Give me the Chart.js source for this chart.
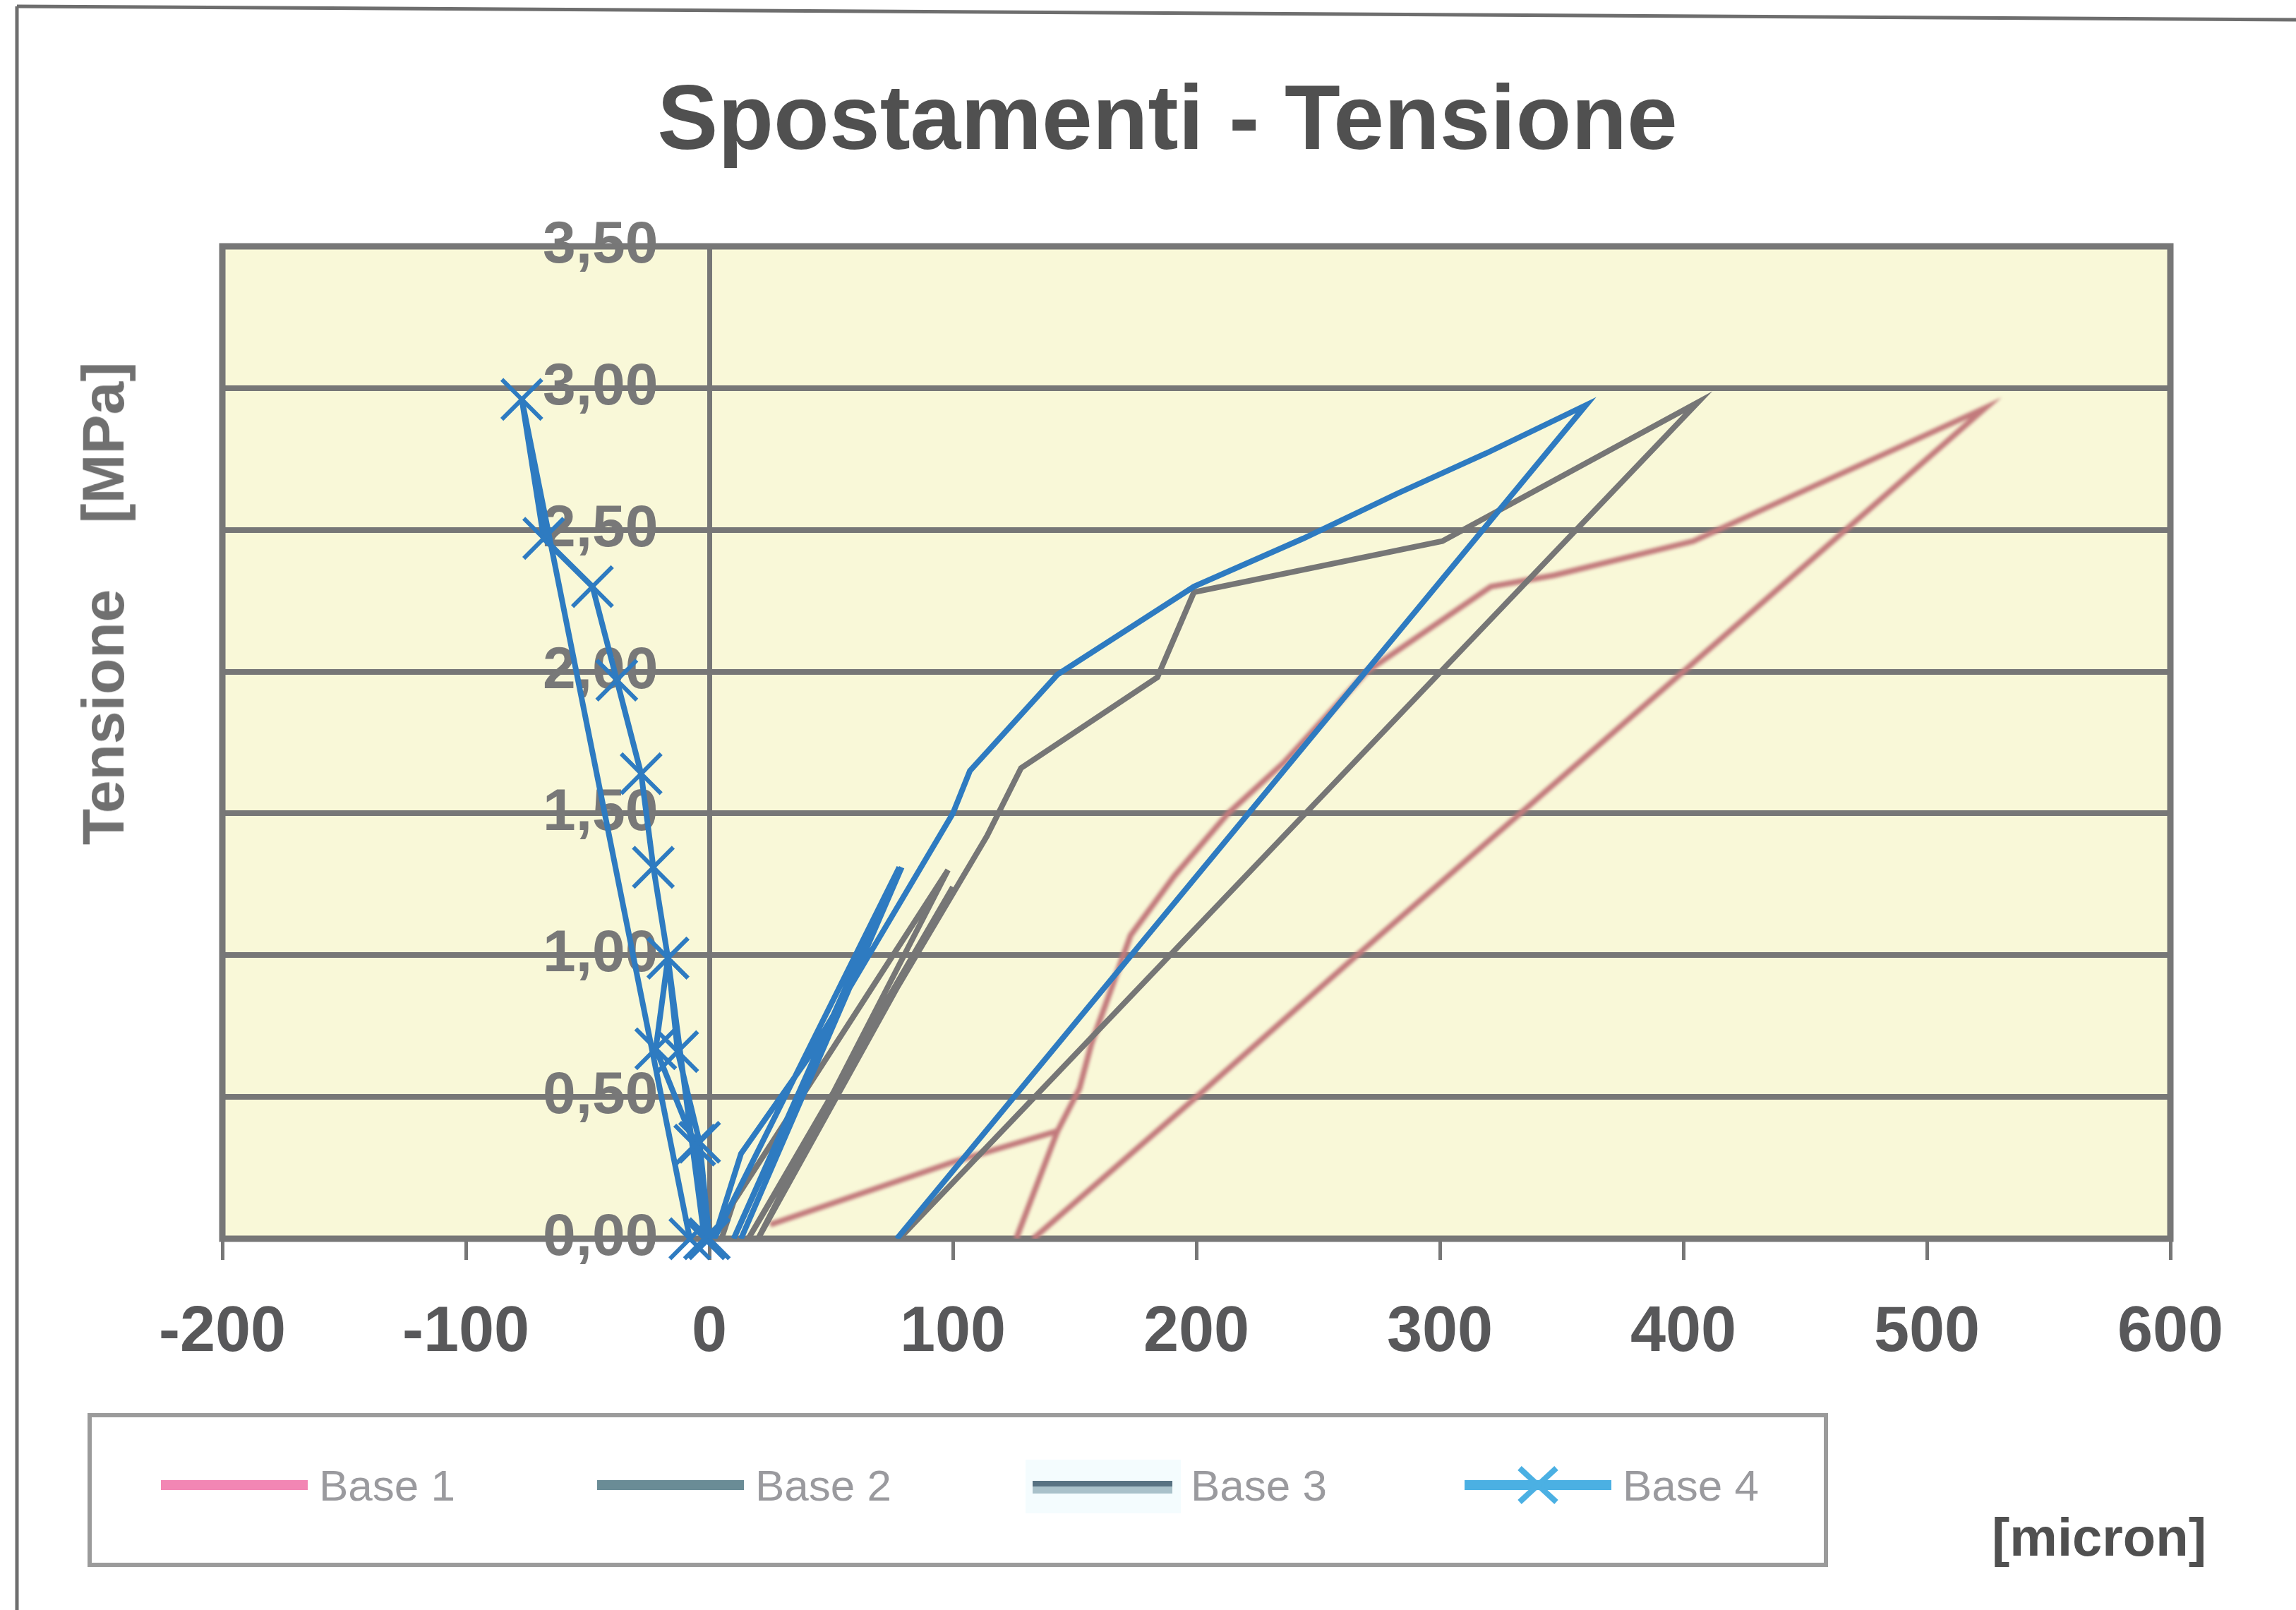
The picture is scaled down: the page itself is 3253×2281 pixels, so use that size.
<!DOCTYPE html>
<html>
<head>
<meta charset="utf-8">
<script src="https://cdn.jsdelivr.net/npm/chart.js@4.4.1/dist/chart.umd.min.js"></script>
<style>
  body { margin: 0; background: #fff; overflow: hidden; font-family: "Liberation Sans", Arial, sans-serif; }
  #page { position: relative; width: 3253px; height: 2281px; }
  #chart { position: absolute; left: 0; top: 0; }
  #frame { position: absolute; left: 0; top: 0; }
  .txt { position: absolute; line-height: 1; white-space: pre; }
  #title { left: 1654px; top: 102px; font-size: 129px; font-weight: bold; color: #505050; transform: translateX(-50%); }
  #ytitle { left: 146px; top: 855px; font-size: 84px; font-weight: bold; color: #707070; transform: translate(-50%, -50%) rotate(-90deg); }
  #xtitle { right: 127px; top: 2140px; font-size: 76px; font-weight: bold; color: #505050; }
  #legend { position: absolute; left: 124px; top: 2002px; width: 2466px; height: 218px; border: 6px solid #9b9b9b; box-sizing: border-box; }
  #legend svg { position: absolute; top: 36px; }
  #legend .lab { position: absolute; top: 66px; font-size: 62px; line-height: 1; color: #9a9a9e; }
</style>
</head>
<body>
<div id="page">
  <svg id="frame" width="3253" height="2281">
    <line x1="24" y1="9" x2="3253" y2="28" stroke="#6e6e6e" stroke-width="5"/>
    <line x1="24" y1="9" x2="24" y2="2281" stroke="#6e6e6e" stroke-width="5"/>
  </svg>
  <canvas id="chart" width="3253" height="2281"></canvas>
  <div class="txt" id="title">Spostamenti - Tensione</div>
  <div class="txt" id="ytitle">Tensione    [MPa]</div>
  <div class="txt" id="xtitle">[micron]</div>
  <div id="legend"></div>
</div>
<script>
// axis ticks
const xTickLabels = ["-200", "-100", "0", "100", "200", "300", "400", "500", "600"];
const yTickLabels = ["0,00", "0,50", "1,00", "1,50", "2,00", "2,50", "3,00", "3,50"];

const seriesNames = ["Base 1", "Base 2", "Base 3", "Base 4"];

// displacement [micron] / stress [MPa] for each plate
const base1X = [126, 143, 152, 157, 173, 191, 213, 236, 270, 321, 347, 404, 524, 460, 400, 333, 266, 200, 133, null, 25, 100, 143];
const base1Y = [0.00, 0.38, 0.53, 0.69, 1.07, 1.28, 1.50, 1.68, 2.00, 2.30, 2.34, 2.46, 2.93, 2.45, 2.00, 1.50, 1.00, 0.50, 0.00, null, 0.05, 0.27, 0.38];

const base2X = [5, 10, 98, 20, 100, 16, 114, 128, 184, 199, 301, 406, 78];
const base2Y = [0.00, 0.13, 1.30, 0.00, 1.24, 0.00, 1.42, 1.66, 1.98, 2.28, 2.46, 2.95, 0.00];

const base3X = [13, 79, 10, 78, 2, 13, 40, 100, 107, 143, 199, 244, 283, 319, 360, 77];
const base3Y = [0.00, 1.31, 0.00, 1.31, 0.00, 0.30, 0.63, 1.50, 1.65, 1.99, 2.30, 2.47, 2.63, 2.77, 2.94, 0.00];

const base4X = [0, -4, -13, -17, -2, -6, -22, -17, -23, -28, -38, -48, -68, -77, -8];
const base4Y = [0.00, 0.34, 0.66, 0.99, 0.00, 0.33, 0.67, 0.99, 1.31, 1.64, 1.97, 2.30, 2.47, 2.96, 0.00];

const lineColors = ["#c27a7c", "#767676", "#2e7bc1", "#2e7bc1"];
const legendColors = ["#f286b4", "#6a8c96", "#587282", "#4bb0e3"];

function points(xs, ys) {
  return xs.map((x, i) => ({ x: x, y: ys[i] }));
}

// yellow plot fill and frame under the curves
const plotBackground = {
  id: "plotBackground",
  beforeDraw(chart) {
    const { ctx, chartArea: a } = chart;
    ctx.save();
    ctx.fillStyle = "#f9f8d8";
    ctx.fillRect(a.left, a.top, a.right - a.left, a.bottom - a.top);
    ctx.restore();
  },
  beforeDatasetsDraw(chart) {
    const { ctx, chartArea: a } = chart;
    ctx.save();
    ctx.strokeStyle = "#777777";
    ctx.lineWidth = 9;
    ctx.strokeRect(a.left, a.top, a.right - a.left, a.bottom - a.top);
    ctx.restore();
  },
  // the first series is printed soft
  beforeDatasetDraw(chart, args) {
    if (args.index === 0) {
      chart.ctx.save();
      chart.ctx.filter = "blur(2px)";
    }
  },
  afterDatasetDraw(chart, args) {
    if (args.index === 0) chart.ctx.restore();
  },
};

const datasets = [
  { label: seriesNames[0], data: points(base1X, base1Y), borderColor: lineColors[0], borderWidth: 8, pointRadius: 0, order: 4 },
  { label: seriesNames[1], data: points(base2X, base2Y), borderColor: lineColors[1], borderWidth: 8, pointRadius: 0, order: 3 },
  { label: seriesNames[2], data: points(base3X, base3Y), borderColor: lineColors[2], borderWidth: 8, pointRadius: 0, order: 2 },
  {
    label: seriesNames[3], data: points(base4X, base4Y), borderColor: lineColors[3], borderWidth: 8,
    pointStyle: "crossRot", pointRadius: 40, pointBorderWidth: 6, pointBorderColor: lineColors[3], order: 1, clip: false,
  },
];
datasets.forEach((d) => { d.showLine = true; d.spanGaps = false; d.fill = false; });

new Chart(document.getElementById("chart"), {
  type: "scatter",
  data: { datasets: datasets },
  plugins: [plotBackground],
  options: {
    responsive: false,
    animation: false,
    layout: { padding: { left: 315, right: 178, top: 349, bottom: 0 } },
    plugins: { legend: { display: false }, tooltip: { enabled: false } },
    scales: {
      x: {
        type: "linear",
        min: -200,
        max: 600,
        afterFit: (scale) => { scale.height = 526; },
        border: { display: false },
        grid: {
          color: (c) => (c.tick && c.tick.value === 0 ? "#777777" : "rgba(0,0,0,0)"),
          lineWidth: 7,
          tickColor: "#777777",
          tickWidth: 5,
          tickLength: 30,
        },
        ticks: {
          stepSize: 100,
          padding: 50,
          color: "#58585a",
          font: { family: "Liberation Sans", size: 90, weight: "bold" },
          callback: (v, i) => xTickLabels[i],
        },
      },
      y: {
        type: "linear",
        min: 0,
        max: 3.5,
        // labels sit just left of the zero line
        position: { x: -21 },
        border: { display: false },
        grid: { color: "#777777", lineWidth: 8, drawTicks: false },
        ticks: {
          stepSize: 0.5,
          color: "#787878",
          font: { family: "Liberation Sans", size: 84, weight: "bold" },
          callback: (v, i) => yTickLabels[i],
        },
      },
    },
  },
});

// legend box
const legendSlots = [98, 716, 1333, 1945];
const legend = document.getElementById("legend");
seriesNames.forEach((name, i) => {
  const x0 = legendSlots[i];
  let svg = '<svg width="240" height="120" style="left:' + (x0 - 16) + 'px">';
  if (i === 2) {
    svg += '<rect x="6" y="24" width="220" height="76" fill="#f4fcfe"/>';
    svg += '<line x1="16" y1="64" x2="214" y2="64" stroke="#a9c1ca" stroke-width="16"/>';
    svg += '<line x1="16" y1="58" x2="214" y2="58" stroke="' + legendColors[i] + '" stroke-width="8"/>';
  } else {
    svg += '<line x1="16" y1="60" x2="224" y2="60" stroke="' + legendColors[i] + '" stroke-width="14"/>';
  }
  if (i === 3) {
    svg += '<line x1="94" y1="36" x2="146" y2="84" stroke="' + legendColors[i] + '" stroke-width="8"/>';
    svg += '<line x1="146" y1="36" x2="94" y2="84" stroke="' + legendColors[i] + '" stroke-width="8"/>';
  }
  svg += "</svg>";
  legend.insertAdjacentHTML("beforeend", svg);
  const lab = document.createElement("div");
  lab.className = "lab";
  lab.style.left = (x0 + 224) + "px";
  lab.textContent = name;
  legend.appendChild(lab);
});
</script>
</body>
</html>
